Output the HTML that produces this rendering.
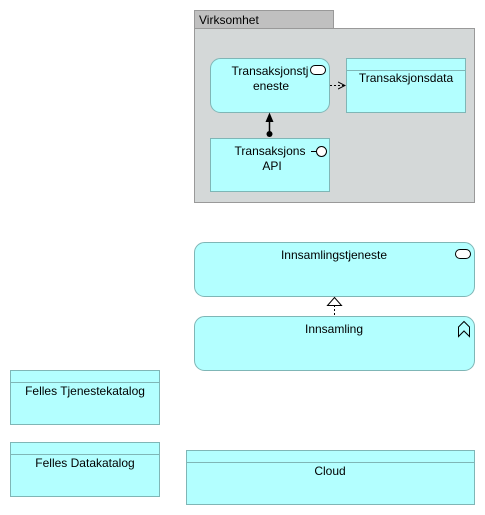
<!DOCTYPE html>
<html><head><meta charset="utf-8"><style>
html,body{margin:0;padding:0;background:#fff;width:485px;height:515px;overflow:hidden}
svg{display:block}
text{font-family:"Liberation Sans",sans-serif;font-size:12px;fill:#000}
</style></head><body>
<svg width="485" height="515" viewBox="0 0 485 515" xmlns="http://www.w3.org/2000/svg">
<defs>
<marker id="open" markerWidth="8" markerHeight="8" refX="7" refY="4" orient="auto" markerUnits="userSpaceOnUse"><path d="M0,0.5 L7,4 L0,7.5" fill="none" stroke="#000" stroke-width="1"/></marker>
</defs>
<rect x="194.5" y="10.5" width="139" height="18" fill="#c0c0c0" stroke="#999"/>
<rect x="194.5" y="28.5" width="280" height="174" fill="#d4d8d8" stroke="#999"/>
<text x="199" y="24">Virksomhet</text>
<rect x="210.5" y="58.5" width="119" height="54" rx="10" fill="#b3ffff" stroke="#7fb6b6"/>
<text x="270" y="75" text-anchor="middle">Transaksjonstj</text>
<text x="271" y="90" text-anchor="middle">eneste</text>
<rect x="310.5" y="65.5" width="15" height="9" rx="4.5" fill="#fff" stroke="#000"/>
<rect x="346.5" y="58.5" width="119" height="54" fill="#b3ffff" stroke="#7fb6b6"/>
<line x1="346.5" y1="70.5" x2="465.5" y2="70.5" stroke="#7fb6b6"/>
<text x="406" y="82" text-anchor="middle">Transaksjonsdata</text>
<line x1="330" y1="85.5" x2="345" y2="85.5" stroke="#000" stroke-dasharray="2,2" marker-end="url(#open)"/>
<rect x="210.5" y="138.5" width="119" height="53" fill="#b3ffff" stroke="#7fb6b6"/>
<text x="270" y="155" text-anchor="middle">Transaksjons</text>
<text x="272" y="170" text-anchor="middle">API</text>
<line x1="311" y1="151.5" x2="316" y2="151.5" stroke="#000"/>
<circle cx="321.5" cy="151.5" r="5" fill="#fff" stroke="#000"/>
<line x1="269.5" y1="121" x2="269.5" y2="134" stroke="#000" stroke-width="1.5"/>
<path d="M265.5,122 L269.5,112.5 L273.5,122 Z" fill="#000"/>
<circle cx="269.5" cy="134" r="3" fill="#000"/>
<rect x="194.5" y="242.5" width="280" height="54" rx="10" fill="#b3ffff" stroke="#7fb6b6"/>
<text x="334" y="259" text-anchor="middle">Innsamlingstjeneste</text>
<rect x="455.5" y="249.5" width="15" height="9" rx="4.5" fill="#fff" stroke="#000"/>
<rect x="194.5" y="316.5" width="280" height="54" rx="10" fill="#b3ffff" stroke="#7fb6b6"/>
<text x="334" y="333" text-anchor="middle">Innsamling</text>
<path d="M458.5,336.5 L458.5,327 L464,321.5 L469.5,327 L469.5,336.5 L464,331 Z" fill="none" stroke="#000"/>
<line x1="334.5" y1="305" x2="334.5" y2="316" stroke="#000" stroke-dasharray="2,2"/>
<path d="M327.5,305.5 L334.5,297.5 L341.5,305.5 Z" fill="#fff" stroke="#000"/>
<rect x="10.5" y="370.5" width="149" height="54" fill="#b3ffff" stroke="#7fb6b6"/>
<line x1="10.5" y1="382.5" x2="159.5" y2="382.5" stroke="#7fb6b6"/>
<text x="85" y="395" text-anchor="middle">Felles Tjenestekatalog</text>
<rect x="10.5" y="442.5" width="149" height="54" fill="#b3ffff" stroke="#7fb6b6"/>
<line x1="10.5" y1="454.5" x2="159.5" y2="454.5" stroke="#7fb6b6"/>
<text x="85" y="467" text-anchor="middle">Felles Datakatalog</text>
<rect x="186.5" y="450.5" width="288" height="54" fill="#b3ffff" stroke="#7fb6b6"/>
<line x1="186.5" y1="462.5" x2="474.5" y2="462.5" stroke="#7fb6b6"/>
<text x="330" y="475" text-anchor="middle">Cloud</text>
</svg>
</body></html>
